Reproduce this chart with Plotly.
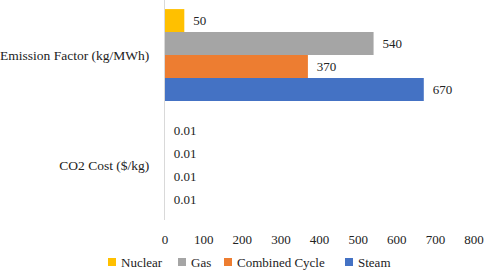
import plotly.graph_objects as go

categories = ["Emission Factor (kg/MWh)", "CO2 Cost ($/kg)"]
series_names = ["Nuclear", "Gas", "Combined Cycle", "Steam"]
nuclear = [50, 0.01]
gas = [540, 0.01]
combined_cycle = [370, 0.01]
steam = [670, 0.01]
x_ticks = [0, 100, 200, 300, 400, 500, 600, 700, 800]

colors = ["#FFC000", "#A5A5A5", "#ED7D31", "#4472C4"]
values = [nuclear, gas, combined_cycle, steam]

font_family = "Liberation Serif"

# plot area geometry (pixels) used to place the legend keys below the plot
W, H = 484, 276
ML, MR, MT, MB = 165, 10, 0, 56
PW, PH = W - ML - MR, H - MT - MB
legend_key_px = [108, 178, 224, 345]
legend_row_px = 262


def px_to_paper_x(px):
    return (px - ML) / PW


def px_to_paper_y(py):
    return (H - MB - py) / PH


fig = go.Figure()
for name, vals, col in zip(series_names, values, colors):
    fig.add_trace(go.Bar(
        y=categories, x=vals, name=name, orientation="h",
        marker=dict(color=col, line=dict(width=0)),
        text=["\u00a0\u2009" + f"{v:g}" for v in vals], textposition="outside",
        textfont=dict(family=font_family, size=13, color="#222"),
        cliponaxis=False, showlegend=False,
    ))

shapes = []
annotations = []
for name, col, kx in zip(series_names, colors, legend_key_px):
    shapes.append(dict(
        type="rect", xref="paper", yref="paper",
        x0=px_to_paper_x(kx), x1=px_to_paper_x(kx + 8),
        y0=px_to_paper_y(legend_row_px + 4), y1=px_to_paper_y(legend_row_px - 4),
        fillcolor=col, line=dict(width=0),
    ))
    annotations.append(dict(
        text=name, xref="paper", yref="paper",
        x=px_to_paper_x(kx + 11), y=px_to_paper_y(legend_row_px),
        xanchor="left", yanchor="middle", showarrow=False,
        font=dict(family=font_family, size=13, color="#222"),
    ))

fig.update_layout(
    template="none",
    width=W, height=H,
    margin=dict(l=ML, r=MR, t=MT, b=MB, pad=0, autoexpand=False),
    barmode="group", bargap=0.165, bargroupgap=0,
    plot_bgcolor="white", paper_bgcolor="white",
    font=dict(family=font_family, size=13, color="#222"),
    showlegend=False,
    shapes=shapes, annotations=annotations,
    xaxis=dict(range=[0, 800], tickvals=x_ticks, showgrid=False, zeroline=False,
               showline=False, ticks="", tickfont=dict(size=13), automargin=False,
               ticklabelstandoff=10),
    yaxis=dict(autorange="reversed", showgrid=False, showline=True,
               linecolor="#D9D9D9", linewidth=1, ticks="", ticklabelstandoff=12,
               tickfont=dict(size=13.5), automargin=False),
)

fig.write_html("out.html", config={"displayModeBar": False},
               post_script="document.body.style.margin='0';")
